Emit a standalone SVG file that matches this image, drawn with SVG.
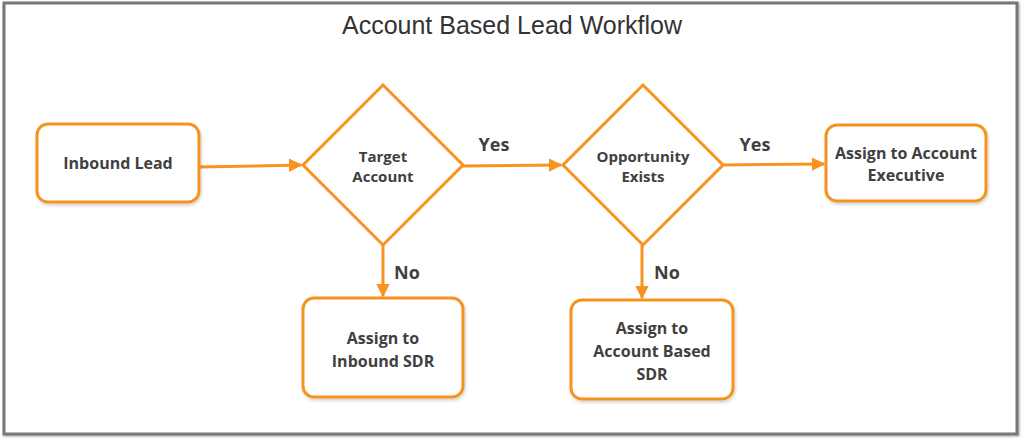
<svg xmlns="http://www.w3.org/2000/svg" width="1024" height="443" viewBox="0 0 1024 443">
<defs>
<filter id="sh" x="-10%" y="-10%" width="125%" height="130%">
<feDropShadow dx="1" dy="2" stdDeviation="1.5" flood-color="#000" flood-opacity="0.18"/>
</filter>
<filter id="fsh" x="-2%" y="-2%" width="104%" height="105%">
<feDropShadow dx="1" dy="1" stdDeviation="1" flood-color="#000" flood-opacity="0.35"/>
</filter>
<marker id="ah" viewBox="0 0 10 10" refX="9" refY="5" markerWidth="4.5" markerHeight="4.5" orient="auto" markerUnits="strokeWidth">
<path d="M0,0 L10,5 L0,10 z" fill="#F7931E"/>
</marker>
<style>
.node{fill:#fff;stroke:#F7931E;stroke-width:3;filter:url(#sh)}
.dia{fill:#fff;stroke:#F7931E;stroke-width:3}
.t{font-family:"Open Sans","DejaVu Sans",sans-serif;font-weight:bold;font-size:16px;fill:#404040;text-anchor:middle}
.dt{font-family:"Open Sans","DejaVu Sans",sans-serif;font-weight:bold;font-size:15px;fill:#404040;text-anchor:middle}
.lbl{font-family:"Open Sans","DejaVu Sans",sans-serif;font-weight:bold;font-size:18px;fill:#404040;text-anchor:middle}
.c{fill:none;stroke:#F7931E;stroke-width:3;marker-end:url(#ah)}
</style>
</defs>
<rect x="0" y="0" width="1024" height="443" fill="#fff"/>
<rect x="4" y="3" width="1013" height="431" fill="#fff" stroke="#777" stroke-width="3" filter="url(#fsh)"/>
<text x="512" y="34" font-family="'Liberation Sans',Arial,sans-serif" font-size="25" fill="#333" text-anchor="middle">Account Based Lead Workflow</text>

<g id="connectors">
<path class="c" d="M199,167 L301,165"/>
<path class="c" d="M463,166 L561,165"/>
<path class="c" d="M723,165 L824,164"/>
<path class="c" d="M383,245 L383,296"/>
<path class="c" d="M642,245 L642,298"/>
<text class="lbl" x="494" y="151">Yes</text>
<text class="lbl" x="755" y="151">Yes</text>
<text class="lbl" x="407" y="279">No</text>
<text class="lbl" x="667" y="279">No</text>
</g>

<g id="inbound-lead">
<rect class="node" x="37" y="124" width="162" height="78" rx="11"/>
<text class="t" x="118" y="169">Inbound Lead</text>
</g>

<g id="target-account">
<path class="dia" d="M383,85 L463,165 L383,245 L303,165 Z"/>
<text class="dt" x="383" y="162">Target</text>
<text class="dt" x="383" y="182">Account</text>
</g>

<g id="opportunity-exists">
<path class="dia" d="M643,85 L723,165 L643,245 L563,165 Z"/>
<text class="dt" x="643" y="162">Opportunity</text>
<text class="dt" x="643" y="182">Exists</text>
</g>

<g id="assign-ae">
<rect class="node" x="826" y="125" width="160" height="76" rx="11"/>
<text class="t" x="906" y="159">Assign to Account</text>
<text class="t" x="906" y="181">Executive</text>
</g>

<g id="assign-inbound-sdr">
<rect class="node" x="303" y="298" width="160" height="99" rx="11"/>
<text class="t" x="383" y="344">Assign to</text>
<text class="t" x="383" y="367">Inbound SDR</text>
</g>

<g id="assign-ab-sdr">
<rect class="node" x="571" y="300" width="162" height="99" rx="11"/>
<text class="t" x="652" y="334">Assign to</text>
<text class="t" x="652" y="357">Account Based</text>
<text class="t" x="652" y="380">SDR</text>
</g>
</svg>
